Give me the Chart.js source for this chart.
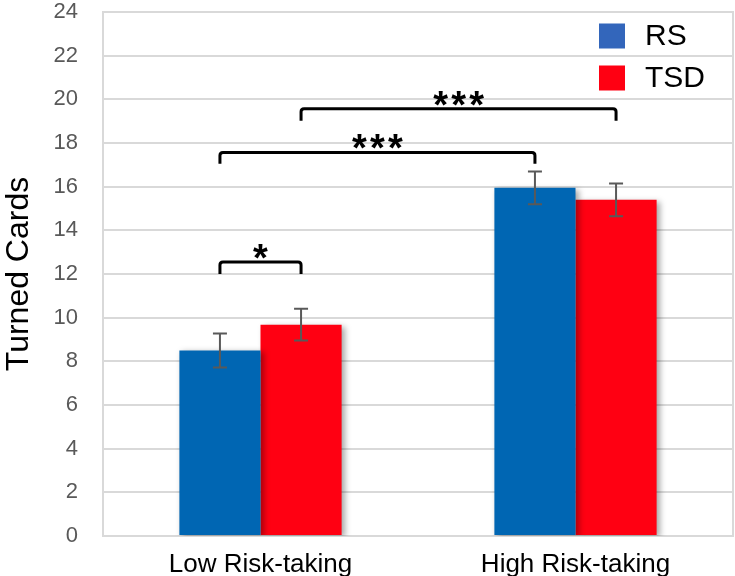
<!DOCTYPE html>
<html><head><meta charset="utf-8">
<script src="https://cdn.jsdelivr.net/npm/chart.js@4/dist/chart.umd.min.js"></script>
<style>html,body{margin:0;padding:0;background:#fff}#wrap{width:735px;height:576px}</style>
</head><body><div id="wrap"><canvas id="c" width="735" height="576"></canvas></div>
<script>
const categories = ["Low Risk-taking", "High Risk-taking"];
const seriesNames = ["RS", "TSD"];
const rsValues = [8.5, 15.95];
const tsdValues = [9.68, 15.4];
const rsErrors = [0.78, 0.75];
const tsdErrors = [0.73, 0.75];
const yTicks = [0, 2, 4, 6, 8, 10, 12, 14, 16, 18, 20, 22, 24];
// brackets: [fromCategory, fromSeries, toCategory, toSeries, levelValue, legBottomValue, label]
const brackets = [
  [0, 0, 0, 1, 12.55, 12.0, "*"],
  [0, 0, 1, 0, 17.57, 17.05, "***"],
  [0, 1, 1, 1, 19.57, 19.02, "***"]
];
const colors = ["#0066B3", "#FF0012"];
const legendColors = ["#3366BB", "#FF0012"];
const FONT = "'Liberation Sans', Arial, sans-serif";

const extrasPlugin = {
  id: "extras",
  beforeDraw(chart) {
    const {ctx, chartArea: a} = chart;
    ctx.save();
    ctx.strokeStyle = "#d9d9d9";
    ctx.lineWidth = 2;
    ctx.strokeRect(a.left, a.top, a.right - a.left, a.bottom - a.top);
    ctx.restore();
  },
  beforeDatasetsDraw(chart) {
    const ctx = chart.ctx;
    ctx.save();
    ctx.shadowColor = "rgba(0,0,0,0.35)";
    ctx.shadowBlur = 6;
    ctx.shadowOffsetX = 3;
    ctx.shadowOffsetY = 2;
  },
  afterDatasetsDraw(chart) {
    const ctx = chart.ctx;
    ctx.restore();
    const y = chart.scales.y;
    const errs = [rsErrors, tsdErrors];
    ctx.save();
    ctx.strokeStyle = "#595959";
    ctx.lineWidth = 2;
    chart.data.datasets.forEach((ds, di) => {
      const meta = chart.getDatasetMeta(di);
      meta.data.forEach((bar, i) => {
        const v = ds.data[i], e = errs[di][i];
        const x = bar.x;
        const yt = y.getPixelForValue(v + e), yb = y.getPixelForValue(v - e);
        ctx.beginPath();
        ctx.moveTo(x, yt); ctx.lineTo(x, yb);
        ctx.moveTo(x - 7, yt); ctx.lineTo(x + 7, yt);
        ctx.moveTo(x - 7, yb); ctx.lineTo(x + 7, yb);
        ctx.stroke();
      });
    });
    ctx.restore();
    // brackets
    ctx.save();
    ctx.strokeStyle = "#000";
    ctx.lineWidth = 3;
    ctx.fillStyle = "#000";
    ctx.font = "bold 38px " + FONT;
    ctx.textAlign = "center";
    ctx.textBaseline = "alphabetic";
    brackets.forEach(b => {
      const x1 = chart.getDatasetMeta(b[1]).data[b[0]].x;
      const x2 = chart.getDatasetMeta(b[3]).data[b[2]].x;
      const yl = y.getPixelForValue(b[4]), yb = y.getPixelForValue(b[5]);
      ctx.beginPath();
      ctx.moveTo(x1, yb); ctx.lineTo(x1, yl + 3);
      ctx.quadraticCurveTo(x1, yl, x1 + 3, yl);
      ctx.lineTo(x2 - 3, yl);
      ctx.quadraticCurveTo(x2, yl, x2, yl + 3);
      ctx.lineTo(x2, yb);
      ctx.stroke();
      const chars = b[6].split("");
      const cx = (x1 + x2) / 2;
      chars.forEach((ch, k) => {
        const off = (k - (chars.length - 1) / 2) * 18;
        ctx.fillText(ch, cx + off, yl + 9);
      });
    });
    ctx.restore();
    // legend
    ctx.save();
    ctx.font = "30px " + FONT;
    ctx.textBaseline = "middle";
    ctx.textAlign = "left";
    seriesNames.forEach((n, i) => {
      const cy = 36 + i * 42;
      ctx.fillStyle = legendColors[i];
      ctx.fillRect(599, cy - 12.5, 26, 25);
      ctx.fillStyle = "#000";
      ctx.fillText(n, 645, cy + 1);
    });
    ctx.restore();
  }
};

new Chart(document.getElementById("c"), {
  type: "bar",
  data: {
    labels: categories,
    datasets: [
      {label: seriesNames[0], data: rsValues, backgroundColor: colors[0], borderWidth: 0},
      {label: seriesNames[1], data: tsdValues, backgroundColor: colors[1], borderWidth: 0}
    ]
  },
  options: {
    responsive: false,
    animation: false,
    layout: {padding: {top: 12, right: 2, left: 0, bottom: 0}},
    datasets: {bar: {categoryPercentage: 0.515, barPercentage: 1.0}},
    plugins: {legend: {display: false}, tooltip: {enabled: false}},
    scales: {
      x: {
        grid: {display: false},
        border: {display: false},
        ticks: {color: "#000", font: {size: 26, family: FONT, lineHeight: 1.0}, padding: 8},
        afterFit(s) { s.height = 40; s.paddingLeft = 0; s.paddingRight = 0; }
      },
      y: {
        min: 0, max: 24,
        afterBuildTicks(s) { s.ticks = yTicks.map(v => ({value: v})); },
        grid: {color: "#d9d9d9", lineWidth: 2, drawTicks: false},
        border: {display: false},
        ticks: {color: "#595959", font: {size: 22, family: FONT}, padding: 25},
        title: {display: true, text: "Turned Cards", color: "#000", font: {size: 32, family: FONT}, padding: {top: 0, bottom: 0}},
        afterFit(s) { s.width = 103; s.paddingTop = 0; s.paddingBottom = 0; }
      }
    }
  },
  plugins: [extrasPlugin]
});
</script></body></html>
